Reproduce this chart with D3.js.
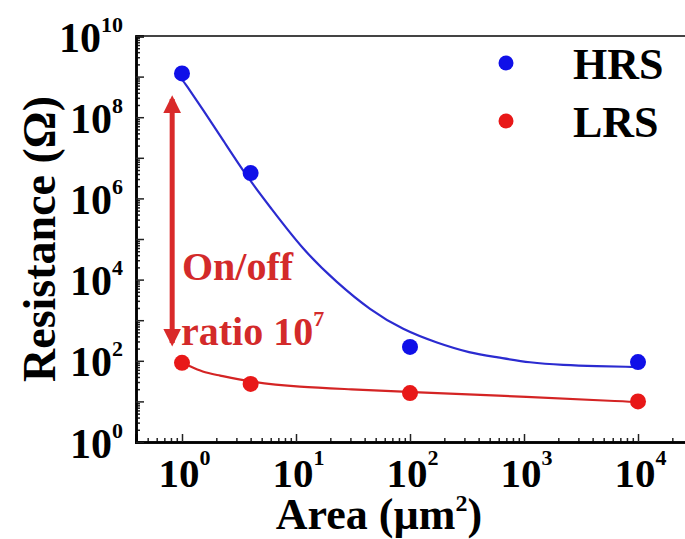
<!DOCTYPE html>
<html>
	<head>
		<meta charset="utf-8">
		<title>Resistance vs Area</title>
		<script src="https://d3js.org/d3.v7.min.js"></script>
		<style>
			body { margin: 0; background: white; }
			#plot { width: 685px; height: 539px; }
		</style>
	</head>
	<body>
		<div id='plot'></div>
		<script>
			// measured points
			var area = [1, 4, 100, 10000]
			var hrs = [1.2e9, 4.2e6, 220, 93]
			var lrs = [89, 27, 16, 10]

			// fitted curves
			var hrsFitArea = [1, 1.06, 1.53, 2.29, 3.72, 5.92, 11.5, 22.9, 44.6, 86.9, 173, 336, 579, 1130, 2200, 4365, 8511, 10000]
			var hrsFitR = [8.5e8, 6.9e8, 1.51e8, 2.75e7, 3.39e6, 6.17e5, 5.37e4, 8320, 1780, 575, 275, 155, 123, 89, 79, 74, 71, 70]
			var lrsFitArea = [1, 1.11, 1.53, 2.03, 3.94, 10.8, 29.8, 98, 1120, 8500, 10000]
			var lrsFitR = [89, 79, 52, 45, 30, 22.4, 20, 17, 12.9, 9.8, 9.7]

			var xTicks = [1, 10, 100, 1000, 10000]
			var xTickExp = ['0', '1', '2', '3', '4']
			var yTicks = [1, 1e2, 1e4, 1e6, 1e8, 1e10]
			var yTickExp = ['0', '2', '4', '6', '8', '10']

			var arrowArea = 0.82
			var arrowR = [10 ** 8.5, 10 ** 2.39]

			var margin = {top: 36, left: 136}
			var width = 550
			var height = 406
			var serif = '"Liberation Serif", "Times New Roman", Times, serif'

			var svg = d3.select('#plot').append('svg')
							.attr('width', 685)
							.attr('height', 539)
							.style('font-family', serif)
							.style('font-weight', 'bold')
						.append('g')
							.attr('transform', 'translate(' + margin.left + ',' + margin.top + ')')

			var xScale = d3.scaleLog()
						.domain([10 ** -0.4035, 10 ** 4.421])
						.range([0, width])
			var yScale = d3.scaleLog()
						.domain([1, 1e10])
						.range([height, 0])

			var xMinor = [], yMinor = []
			for (e = -1; e <= 4; e++) {
				for (m = 2; m <= 9; m++) {
					v = m * 10 ** e
					if (v > xScale.domain()[0] && v < xScale.domain()[1]) xMinor.push(v)
				}
			}
			for (e = 0; e < 10; e++) {
				for (m = 2; m <= 9; m++) yMinor.push(m * 10 ** e)
			}
			var yMajor = d3.range(0, 11).map(function(e){ return 10 ** e })

			// frame top
			svg.append('line')
				.attr('x1', 0).attr('x2', width + 5)
				.attr('y1', 0).attr('y2', 0)
				.attr('stroke', '#444').attr('stroke-width', 2)

			// minor ticks
			svg.append('g')
				.attr('transform', 'translate(0,' + height + ')')
				.call(d3.axisBottom(xScale).tickValues(xMinor).tickSize(-4).tickFormat(''))
			svg.append('g')
				.call(d3.axisLeft(yScale).tickValues(yMinor).tickSize(-4).tickFormat(''))

			var xAxis = svg.append('g')
				.attr('class', 'xaxis')
				.attr('transform', 'translate(0,' + height + ')')
				.call(d3.axisBottom(xScale).tickValues(xTicks).tickSize(-8).tickFormat(''))
			var yAxis = svg.append('g')
				.attr('class', 'yaxis')
				.call(d3.axisLeft(yScale).tickValues(yMajor).tickSize(-8).tickFormat(''))

			svg.selectAll('.domain').attr('stroke', 'black').attr('stroke-width', 2.5)
			svg.selectAll('.tick line').attr('stroke', '#222').attr('stroke-width', 1.5)

			xAxis.selectAll('.tick').filter(function(d){ return xTicks.indexOf(d) > -1 })
				.append('text')
					.attr('x', 2).attr('y', 45)
					.attr('fill', 'black')
					.attr('text-anchor', 'middle')
					.attr('font-family', serif)
					.style('font-size', '41px')
					.each(function(d){
						var t = d3.select(this)
						t.append('tspan').text('10')
						t.append('tspan').attr('dy', -22).style('font-size', '22px').text(xTickExp[xTicks.indexOf(d)])
					})

			yAxis.selectAll('.tick').filter(function(d){ return yTicks.indexOf(d) > -1 })
				.append('text')
					.attr('x', -13).attr('y', 15)
					.attr('fill', 'black')
					.attr('text-anchor', 'end')
					.attr('font-family', serif)
					.style('font-size', '42px')
					.each(function(d){
						var t = d3.select(this)
						t.append('tspan').text('10')
						t.append('tspan').attr('dy', -20).style('font-size', '22px').text(yTickExp[yTicks.indexOf(d)])
					})

			// axis titles
			var xt = svg.append('text')
				.attr('x', 379 - margin.left).attr('y', 529 - margin.top)
				.attr('text-anchor', 'middle')
				.style('font-size', '44px')
			xt.append('tspan').text('Area (µm')
			xt.append('tspan').attr('dy', -18).style('font-size', '24px').text('2')
			xt.append('tspan').attr('dy', 18).text(')')

			svg.append('text')
				.attr('transform', 'translate(' + (55 - margin.left) + ',' + (239 - margin.top) + ') rotate(-90)')
				.attr('text-anchor', 'middle')
				.style('font-size', '46px')
				.text('Resistance (Ω)')

			// fit curves
			var line = d3.line()
						.x(function(d){ return xScale(d[0]) })
						.y(function(d){ return yScale(d[1]) })
						.curve(d3.curveBasis)

			svg.append('path')
				.datum(d3.zip(hrsFitArea, hrsFitR))
				.attr('d', line)
				.attr('fill', 'none')
				.attr('stroke', '#2b2bd0')
				.attr('stroke-width', 2.2)
			svg.append('path')
				.datum(d3.zip(lrsFitArea, lrsFitR))
				.attr('d', line)
				.attr('fill', 'none')
				.attr('stroke', '#d42424')
				.attr('stroke-width', 2.2)

			svg.selectAll('.hrs')
				.data(d3.zip(area, hrs))
				.enter()
				.append('circle')
					.attr('class', 'hrs')
					.attr('cx', function(d){ return xScale(d[0]) })
					.attr('cy', function(d){ return yScale(d[1]) })
					.attr('r', 8)
					.attr('fill', '#1010e8')
			svg.selectAll('.lrs')
				.data(d3.zip(area, lrs))
				.enter()
				.append('circle')
					.attr('class', 'lrs')
					.attr('cx', function(d){ return xScale(d[0]) })
					.attr('cy', function(d){ return yScale(d[1]) })
					.attr('r', 8)
					.attr('fill', '#e81818')

			// on/off arrow
			var defs = d3.select('svg').append('defs')
			defs.append('marker')
					.attr('id', 'head')
					.attr('viewBox', '0 0 10 10')
					.attr('refX', 8).attr('refY', 5)
					.attr('markerUnits', 'userSpaceOnUse')
					.attr('markerWidth', 18).attr('markerHeight', 20)
					.attr('orient', 'auto-start-reverse')
				.append('path')
					.attr('d', 'M0,0 L10,5 L0,10 Z')
					.attr('fill', '#d92a2a')

			svg.append('line')
				.attr('x1', xScale(arrowArea)).attr('x2', xScale(arrowArea))
				.attr('y1', yScale(arrowR[0]) + 2).attr('y2', yScale(arrowR[1]) - 2)
				.attr('stroke', '#d92a2a')
				.attr('stroke-width', 5)
				.attr('marker-start', 'url(#head)')
				.attr('marker-end', 'url(#head)')

			svg.append('text')
				.attr('x', 182 - margin.left).attr('y', 280 - margin.top)
				.attr('fill', '#d32a2a')
				.style('font-size', '40px')
				.text('On/off')
			var rt = svg.append('text')
				.attr('x', 181 - margin.left).attr('y', 345 - margin.top)
				.attr('fill', '#d32a2a')
				.style('font-size', '40px')
			rt.append('tspan').text('ratio 10')
			rt.append('tspan').attr('dy', -19).style('font-size', '22px').text('7')

			// legend
			var legend = svg.append('g')
			var lg = [['HRS', '#1010e8', 63], ['LRS', '#e81818', 121]]
			legend.selectAll('circle')
				.data(lg).enter()
				.append('circle')
					.attr('cx', 506 - margin.left)
					.attr('cy', function(d){ return d[2] - margin.top })
					.attr('r', 7.5)
					.attr('fill', function(d){ return d[1] })
			legend.selectAll('text')
				.data(lg).enter()
				.append('text')
					.attr('x', 573 - margin.left)
					.attr('y', function(d){ return d[2] + 16 - margin.top })
					.style('font-size', '44px')
					.text(function(d){ return d[0] })
		</script>
	</body>
</html>
